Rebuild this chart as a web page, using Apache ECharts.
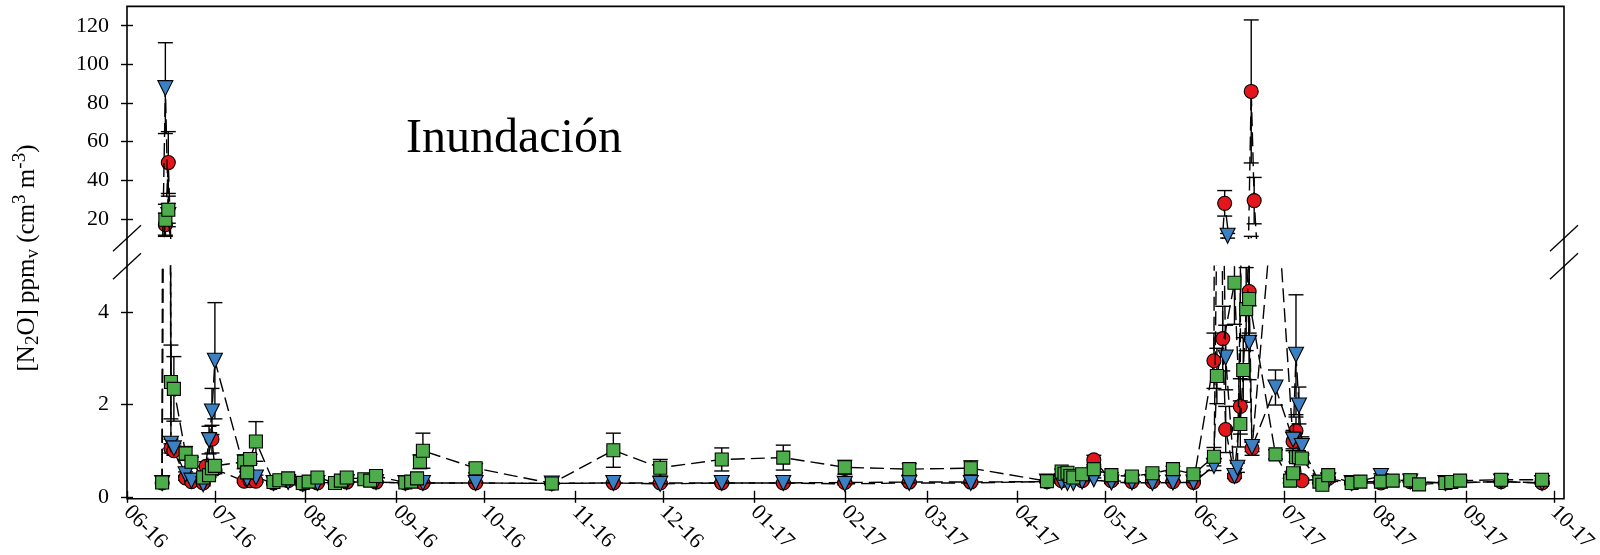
<!DOCTYPE html>
<html>
<head>
<meta charset="utf-8">
<title>N2O - Inundación</title>
<script src="https://cdn.jsdelivr.net/npm/echarts@6/dist/echarts.min.js"></script>
<style>
html, body { margin: 0; padding: 0; background: #fff; }
#chart { width: 1600px; height: 555px; }
</style>
</head>
<body>
<div id="chart"></div>
<script>
// month tick labels of the time axis (MM-YY)
const monthTicks = ['06-16', '07-16', '08-16', '09-16', '10-16', '11-16', '12-16', '01-17',
	'02-17', '03-17', '04-17', '05-17', '06-17', '07-17', '08-17', '09-17', '10-17'];
const upperTicks = [20, 40, 60, 80, 100, 120];
const lowerTicks = [0, 2, 4];

// [date, mean, error]
const redSeries = [
	['2016-06-13', 0.30, 0], ['2016-06-14', 17, 6], ['2016-06-15', 49.2, 16],
	['2016-06-16', 1.05, 0.1], ['2016-06-17', 1.0, 0.1], ['2016-06-21', 0.41, 0.05],
	['2016-06-23', 0.33, 0.03], ['2016-06-27', 0.30, 0.03], ['2016-06-28', 0.66, 0.1],
	['2016-06-30', 1.25, 0.3], ['2016-07-01', 0.60, 0.1], ['2016-07-11', 0.34, 0.03],
	['2016-07-13', 0.35, 0.03], ['2016-07-15', 0.34, 0.03], ['2016-07-21', 0.30, 0.02],
	['2016-07-26', 0.35, 0.02], ['2016-07-31', 0.28, 0.02], ['2016-08-05', 0.30, 0.02],
	['2016-08-15', 0.32, 0.02], ['2016-08-25', 0.32, 0.02], ['2016-09-04', 0.30, 0.02],
	['2016-09-10', 0.30, 0.02], ['2016-09-28', 0.30, 0.02], ['2016-10-24', 0.29, 0.02],
	['2016-11-14', 0.30, 0.02], ['2016-11-30', 0.30, 0.02], ['2016-12-21', 0.30, 0.02],
	['2017-01-11', 0.30, 0.02], ['2017-02-01', 0.31, 0.02], ['2017-02-23', 0.32, 0.02],
	['2017-03-16', 0.32, 0.02], ['2017-04-11', 0.33, 0.02], ['2017-04-16', 0.35, 0.03],
	['2017-04-23', 0.35, 0.03], ['2017-04-27', 0.80, 0.1], ['2017-05-03', 0.35, 0.02],
	['2017-05-10', 0.33, 0.02], ['2017-05-17', 0.33, 0.02], ['2017-05-24', 0.33, 0.02],
	['2017-05-31', 0.31, 0.02], ['2017-06-07', 2.95, 0.6], ['2017-06-08', 28.1, 6.6],
	['2017-06-10', 3.43, 0.7], ['2017-06-11', 1.46, 0.5], ['2017-06-14', 0.45, 0.05],
	['2017-06-16', 1.96, 0.6], ['2017-06-17', 86, 37], ['2017-06-18', 29.5, 12],
	['2017-06-19', 4.45, 0.9], ['2017-06-20', 1.05, 0.15], ['2017-06-28', 7.0, 2],
	['2017-07-04', 1.20, 0.2], ['2017-07-05', 1.43, 0.3], ['2017-07-07', 0.35, 0.05],
	['2017-07-16', 0.40, 0.03], ['2017-07-24', 0.30, 0.02], ['2017-08-03', 0.30, 0.02],
	['2017-08-13', 0.33, 0.02], ['2017-08-25', 0.30, 0.02], ['2017-09-13', 0.33, 0.02],
	['2017-09-27', 0.30, 0.02]
];
const blueSeries = [
	['2016-06-13', 0.30, 0], ['2016-06-14', 87.7, 23.5], ['2016-06-15', 22, 6],
	['2016-06-16', 1.15, 0.1], ['2016-06-17', 1.05, 0.1], ['2016-06-21', 0.49, 0.05],
	['2016-06-23', 0.35, 0.03], ['2016-06-27', 0.27, 0.03], ['2016-06-29', 1.23, 0.3],
	['2016-06-30', 1.85, 0.5], ['2016-07-01', 2.95, 1.26], ['2016-07-12', 0.38, 0.05],
	['2016-07-15', 0.42, 0.05], ['2016-07-21', 0.30, 0.02], ['2016-07-26', 0.32, 0.02],
	['2016-07-31', 0.28, 0.02], ['2016-08-05', 0.30, 0.02], ['2016-08-15', 0.32, 0.02],
	['2016-08-25', 0.32, 0.02], ['2016-09-04', 0.30, 0.02], ['2016-09-10', 0.30, 0.02],
	['2016-09-28', 0.30, 0.02], ['2016-10-24', 0.29, 0.02], ['2016-11-14', 0.30, 0.02],
	['2016-11-30', 0.28, 0.02], ['2016-12-21', 0.30, 0.02], ['2017-01-11', 0.30, 0.02],
	['2017-02-01', 0.28, 0.02], ['2017-02-23', 0.30, 0.02], ['2017-03-16', 0.30, 0.02],
	['2017-04-11', 0.33, 0.02], ['2017-04-16', 0.32, 0.02], ['2017-04-18', 0.30, 0.02],
	['2017-04-20', 0.30, 0.02], ['2017-04-23', 0.33, 0.02], ['2017-04-27', 0.38, 0.03],
	['2017-05-03', 0.31, 0.02], ['2017-05-10', 0.31, 0.02], ['2017-05-17', 0.30, 0.02],
	['2017-05-24', 0.31, 0.02], ['2017-05-31', 0.31, 0.02], ['2017-06-07', 0.67, 0.1],
	['2017-06-09', 11.3, 1.2], ['2017-06-11', 3.02, 0.7], ['2017-06-14', 0.45, 0.05],
	['2017-06-15', 0.63, 0.1], ['2017-06-17', 8.0, 3], ['2017-06-19', 3.34, 0.8],
	['2017-06-20', 1.08, 0.1], ['2017-06-28', 2.37, 0.38], ['2017-07-04', 1.24, 0.2],
	['2017-07-05', 3.08, 1.3], ['2017-07-06', 1.98, 0.4], ['2017-07-07', 1.10, 0.2],
	['2017-07-13', 0.30, 0.02], ['2017-07-16', 0.35, 0.03], ['2017-07-24', 0.30, 0.02],
	['2017-08-03', 0.45, 0.05], ['2017-08-13', 0.33, 0.02], ['2017-08-25', 0.30, 0.02],
	['2017-09-13', 0.33, 0.02], ['2017-09-27', 0.30, 0.02]
];
const greenSeries = [
	['2016-06-13', 0.31, 0], ['2016-06-14', 19.6, 8], ['2016-06-15', 24.8, 7],
	['2016-06-16', 2.49, 0.8], ['2016-06-17', 2.34, 0.7], ['2016-06-21', 0.94, 0.15],
	['2016-06-23', 0.76, 0.1], ['2016-06-27', 0.42, 0.05], ['2016-06-29', 0.47, 0.05],
	['2016-06-30', 0.62, 0.1], ['2016-07-01', 0.67, 0.1], ['2016-07-11', 0.76, 0.15],
	['2016-07-12', 0.53, 0.05], ['2016-07-13', 0.82, 0.1], ['2016-07-15', 1.20, 0.43],
	['2016-07-21', 0.32, 0.03], ['2016-07-23', 0.36, 0.03], ['2016-07-26', 0.40, 0.03],
	['2016-07-31', 0.30, 0.02], ['2016-08-02', 0.33, 0.02], ['2016-08-05', 0.42, 0.03],
	['2016-08-11', 0.30, 0.02], ['2016-08-13', 0.35, 0.02], ['2016-08-15', 0.42, 0.03],
	['2016-08-21', 0.38, 0.03], ['2016-08-23', 0.35, 0.03], ['2016-08-25', 0.45, 0.03],
	['2016-09-04', 0.31, 0.02], ['2016-09-06', 0.33, 0.02], ['2016-09-08', 0.40, 0.03],
	['2016-09-09', 0.76, 0.15], ['2016-09-10', 1.00, 0.38], ['2016-09-28', 0.62, 0.1],
	['2016-10-24', 0.29, 0.02], ['2016-11-14', 1.01, 0.37], ['2016-11-30', 0.63, 0.18],
	['2016-12-21', 0.81, 0.25], ['2017-01-11', 0.85, 0.27], ['2017-02-01', 0.64, 0.15],
	['2017-02-23', 0.60, 0.12], ['2017-03-16', 0.62, 0.16], ['2017-04-11', 0.34, 0.03],
	['2017-04-16', 0.55, 0.05], ['2017-04-17', 0.50, 0.05], ['2017-04-18', 0.52, 0.05],
	['2017-04-19', 0.45, 0.04], ['2017-04-20', 0.42, 0.04], ['2017-04-23', 0.49, 0.05],
	['2017-04-27', 0.60, 0.06], ['2017-05-03', 0.47, 0.05], ['2017-05-10', 0.44, 0.05],
	['2017-05-17', 0.51, 0.05], ['2017-05-24', 0.60, 0.06], ['2017-05-31', 0.49, 0.05],
	['2017-06-07', 0.87, 0.2], ['2017-06-08', 2.62, 0.6], ['2017-06-14', 4.64, 0.9],
	['2017-06-16', 1.58, 0.5], ['2017-06-17', 2.75, 0.7], ['2017-06-18', 4.07, 0.9],
	['2017-06-19', 4.29, 0.8], ['2017-06-28', 0.92, 0.1], ['2017-07-03', 0.35, 0.05],
	['2017-07-04', 0.51, 0.05], ['2017-07-05', 0.86, 0.1], ['2017-07-06', 0.86, 0.1],
	['2017-07-07', 0.83, 0.1], ['2017-07-13', 0.33, 0.03], ['2017-07-14', 0.26, 0.03],
	['2017-07-16', 0.47, 0.05], ['2017-07-24', 0.30, 0.02], ['2017-07-27', 0.33, 0.02],
	['2017-08-03', 0.33, 0.02], ['2017-08-07', 0.35, 0.02], ['2017-08-13', 0.36, 0.02],
	['2017-08-16', 0.27, 0.02], ['2017-08-25', 0.30, 0.02], ['2017-08-27', 0.32, 0.02],
	['2017-08-30', 0.35, 0.02], ['2017-09-13', 0.37, 0.02], ['2017-09-27', 0.37, 0.02]
];

const FONT = "'Liberation Serif', 'Times New Roman', serif";

// plot layout (px)
const L = 127, R = 1564, T = 6.4, B = 498.7;
const upperBottom = 238.3, lowerTop = 266.2;

const monthTime = (s) => Date.UTC(2000 + Number(s.slice(3)), Number(s.slice(0, 2)) - 1, 1);
const tickTimes = monthTicks.map(monthTime);
const xMin = tickTimes[0], xMax = tickTimes[tickTimes.length - 1];
const toData = (arr) => arr.map(d => [Date.parse(d[0]), d[1], d[2]]);

const errorBar = (params, api) => {
	const e = api.value(2);
	if (!e) return null;
	const t = api.value(0), v = api.value(1);
	const cs = params.coordSys;
	const top = api.coord([t, v + e]);
	const bot = api.coord([t, v - e]);
	const x = top[0];
	const y0 = Math.max(cs.y, top[1]);
	const y1 = Math.min(cs.y + cs.height, bot[1]);
	if (y1 <= y0) return null;
	const st = { stroke: '#000', lineWidth: 1.4 };
	const kids = [{ type: 'line', shape: { x1: x, y1: y0, x2: x, y2: y1 }, style: st }];
	if (top[1] >= cs.y) kids.push({ type: 'line', shape: { x1: x - 7.5, y1: top[1], x2: x + 7.5, y2: top[1] }, style: st });
	if (bot[1] <= cs.y + cs.height) kids.push({ type: 'line', shape: { x1: x - 7.5, y1: bot[1], x2: x + 7.5, y2: bot[1] }, style: st });
	return { type: 'group', children: kids };
};

const defs = [
	{ name: 'red', data: redSeries, color: '#e3161b', symbol: 'circle', size: 14, rotate: 0 },
	{ name: 'blue', data: blueSeries, color: '#3a80c2', symbol: 'triangle', size: 15, rotate: 180 },
	{ name: 'green', data: greenSeries, color: '#4cad4a', symbol: 'rect', size: 13, rotate: 0 }
];

const series = [];
[0, 1].forEach(g => {
	defs.forEach(d => {
		series.push({
			type: 'custom',
			name: d.name + '-err',
			xAxisIndex: g,
			yAxisIndex: g,
			renderItem: errorBar,
			encode: { x: 0, y: 1 },
			data: toData(d.data),
			z: 1,
			silent: true
		});
	});
	defs.forEach((d, i) => {
		series.push({
			type: 'line',
			name: d.name,
			xAxisIndex: g,
			yAxisIndex: g,
			data: toData(d.data),
			clip: true,
			symbol: d.symbol,
			symbolSize: d.size,
			symbolRotate: d.rotate,
			showSymbol: true,
			showAllSymbol: true,
			z: 2 + i,
			lineStyle: { color: '#000', width: 1.4, type: [14, 6] },
			itemStyle: { color: d.color, borderColor: '#000', borderWidth: 1.1 },
			emphasis: { disabled: true },
			silent: true
		});
	});
});

const yAxisBase = (g, min, max, ticks) => ({
	gridIndex: g,
	type: 'value',
	min: min,
	max: max,
	offset: -6,
	axisLine: { show: false },
	splitLine: { show: false },
	axisTick: { show: true, length: 12, customValues: ticks, lineStyle: { color: '#000', width: 1.4 } },
	axisLabel: { customValues: ticks, margin: 24, color: '#000', fontSize: 22, fontFamily: FONT }
});

const chart = echarts.init(document.getElementById('chart'));
chart.setOption({
	animation: false,
	backgroundColor: '#fff',
	grid: [
		{ left: L, top: T, width: R - L, height: upperBottom - T },
		{ left: L, top: lowerTop, width: R - L, height: B - lowerTop }
	],
	xAxis: [
		{ gridIndex: 0, type: 'value', min: xMin, max: xMax, show: false, splitLine: { show: false } },
		{
			gridIndex: 1, type: 'value', min: xMin, max: xMax,
			offset: -6,
			axisLine: { show: false },
			splitLine: { show: false },
			axisTick: { show: true, length: 12, customValues: tickTimes, lineStyle: { color: '#000', width: 1.4 } },
			axisLabel: {
				customValues: tickTimes,
				rotate: -45,
				margin: 18,
				color: '#000',
				fontSize: 22,
				fontFamily: FONT,
				formatter: (v) => monthTicks[tickTimes.indexOf(v)] || ''
			}
		}
	],
	yAxis: [
		yAxisBase(0, 10, 130, upperTicks),
		yAxisBase(1, 0, 5, lowerTicks)
	],
	graphic: [
		{ type: 'rect', silent: true, z: 10, shape: { x: L, y: T, width: R - L, height: B - T },
			style: { fill: null, stroke: '#000', lineWidth: 1.6 } },
		...[upperBottom, lowerTop].flatMap(y => [L, R].map(x => ({
			type: 'line', silent: true, z: 10,
			shape: { x1: x - 14, y1: y + 13, x2: x + 14, y2: y - 13 },
			style: { stroke: '#000', lineWidth: 1.3 }
		}))),
		{ type: 'text', silent: true, z: 10, x: 406, y: 139,
			style: { text: 'Inundación', font: "48px " + FONT, fill: '#000', textVerticalAlign: 'middle' } },
		{ type: 'text', silent: true, z: 10, x: 27, y: 258, rotation: Math.PI / 2,
			style: {
				text: '{n|[N}{sub|2}{n|O] ppm}{sub|v}{n| (cm}{sup|3}{n| m}{sup|-3}{n|)}',
				align: 'center', verticalAlign: 'middle', fill: '#000',
				rich: {
					n: { fontSize: 25, fontFamily: FONT, lineHeight: 32, color: '#000' },
					sub: { fontSize: 19, fontFamily: FONT, lineHeight: 17, verticalAlign: 'bottom', color: '#000' },
					sup: { fontSize: 19, fontFamily: FONT, lineHeight: 17, verticalAlign: 'top', color: '#000' }
				}
			} }
	],
	series: series
});
</script>
</body>
</html>
